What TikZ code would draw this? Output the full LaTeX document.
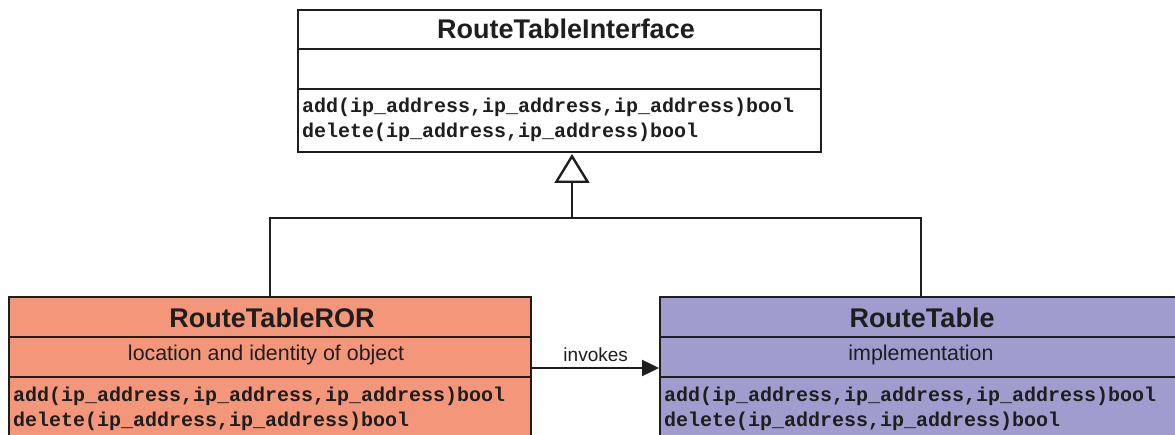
\documentclass[tikz,border=0pt]{standalone}
\usepackage{fontspec}
\setmainfont{Liberation Sans}
\setmonofont{Liberation Mono}
\usetikzlibrary{arrows.meta}
\definecolor{rorfill}{RGB}{244,150,122}
\definecolor{implfill}{RGB}{160,156,206}
\definecolor{ink}{RGB}{30,30,30}

\begin{document}
\begin{tikzpicture}[x=1pt,y=-1pt,
  classbox/.style={draw=ink, line width=2.4pt, anchor=north west, inner sep=0pt},
  sep/.style={draw=ink, line width=2.4pt},
  conn/.style={draw=ink, line width=2.4pt},
  title/.style={font=\fontsize{27}{30}\selectfont\bfseries, text=ink, anchor=base, inner sep=0pt},
  sub/.style={font=\fontsize{21.4}{24}\selectfont, text=ink, anchor=base, inner sep=0pt},
  meth/.style={font=\fontsize{20}{25}\selectfont\ttfamily\bfseries, text=ink, anchor=base west, inner sep=0pt},
  lbl/.style={font=\fontsize{19}{22}\selectfont, text=ink, inner sep=0pt}
]
\useasboundingbox (0,0) rectangle (1175,435);
\clip (0,0) rectangle (1175,435);
\fill[white] (0,0) rectangle (1175,435);

% interface class
\node[classbox, fill=white, minimum width=523pt, minimum height=142pt] (iface) at (297,9) {};
\draw[sep] (iface.west |- 0,49) -- (iface.east |- 0,49);
\draw[sep] (iface.west |- 0,89) -- (iface.east |- 0,89);
\node[title] (ifacename) at (566,39) {RouteTableInterface};
\node[meth] (ifaceadd) at (302,113) {add(ip\_address,ip\_address,ip\_address)bool};
\node[meth] (ifacedel) at (302,138) {delete(ip\_address,ip\_address)bool};

% remote object reference class
\node[classbox, fill=rorfill, minimum width=522pt, minimum height=170pt] (ror) at (8,296) {};
\draw[sep] (ror.west |- 0,337) -- (ror.east |- 0,337);
\draw[sep] (ror.west |- 0,377) -- (ror.east |- 0,377);
\node[title] (rorname) at (272,328) {RouteTableROR};
\node[sub] (rorsub) at (266,361) {location and identity of object};
\node[meth] (roradd) at (13,401) {add(ip\_address,ip\_address,ip\_address)bool};
\node[meth] (rordel) at (13,426) {delete(ip\_address,ip\_address)bool};

% implementation class
\node[classbox, fill=implfill, minimum width=522pt, minimum height=170pt] (impl) at (659,296) {};
\draw[sep] (impl.west |- 0,337) -- (impl.east |- 0,337);
\draw[sep] (impl.west |- 0,377) -- (impl.east |- 0,377);
\node[title] (implname) at (922,328) {RouteTable};
\node[sub] (implsub) at (921,361) {implementation};
\node[meth] (impladd) at (664,401) {add(ip\_address,ip\_address,ip\_address)bool};
\node[meth] (impldel) at (664,426) {delete(ip\_address,ip\_address)bool};

% generalization
\coordinate (joint) at (572,218);
\coordinate (tip) at (572,154);
\draw[conn] (ror.north) |- (joint) -| (impl.north);
\draw[conn, -{Triangle[open, length=29pt, width=35pt, line width=2.4pt]}] (joint) -- (tip);

% invocation
\coordinate (arrowy) at (0,368);
\draw[conn, -{Triangle[length=17pt, width=16pt]}] (ror.east |- arrowy) -- node[lbl, above=5pt] (invokes) {invokes} (impl.west |- arrowy);
\end{tikzpicture}
\end{document}
